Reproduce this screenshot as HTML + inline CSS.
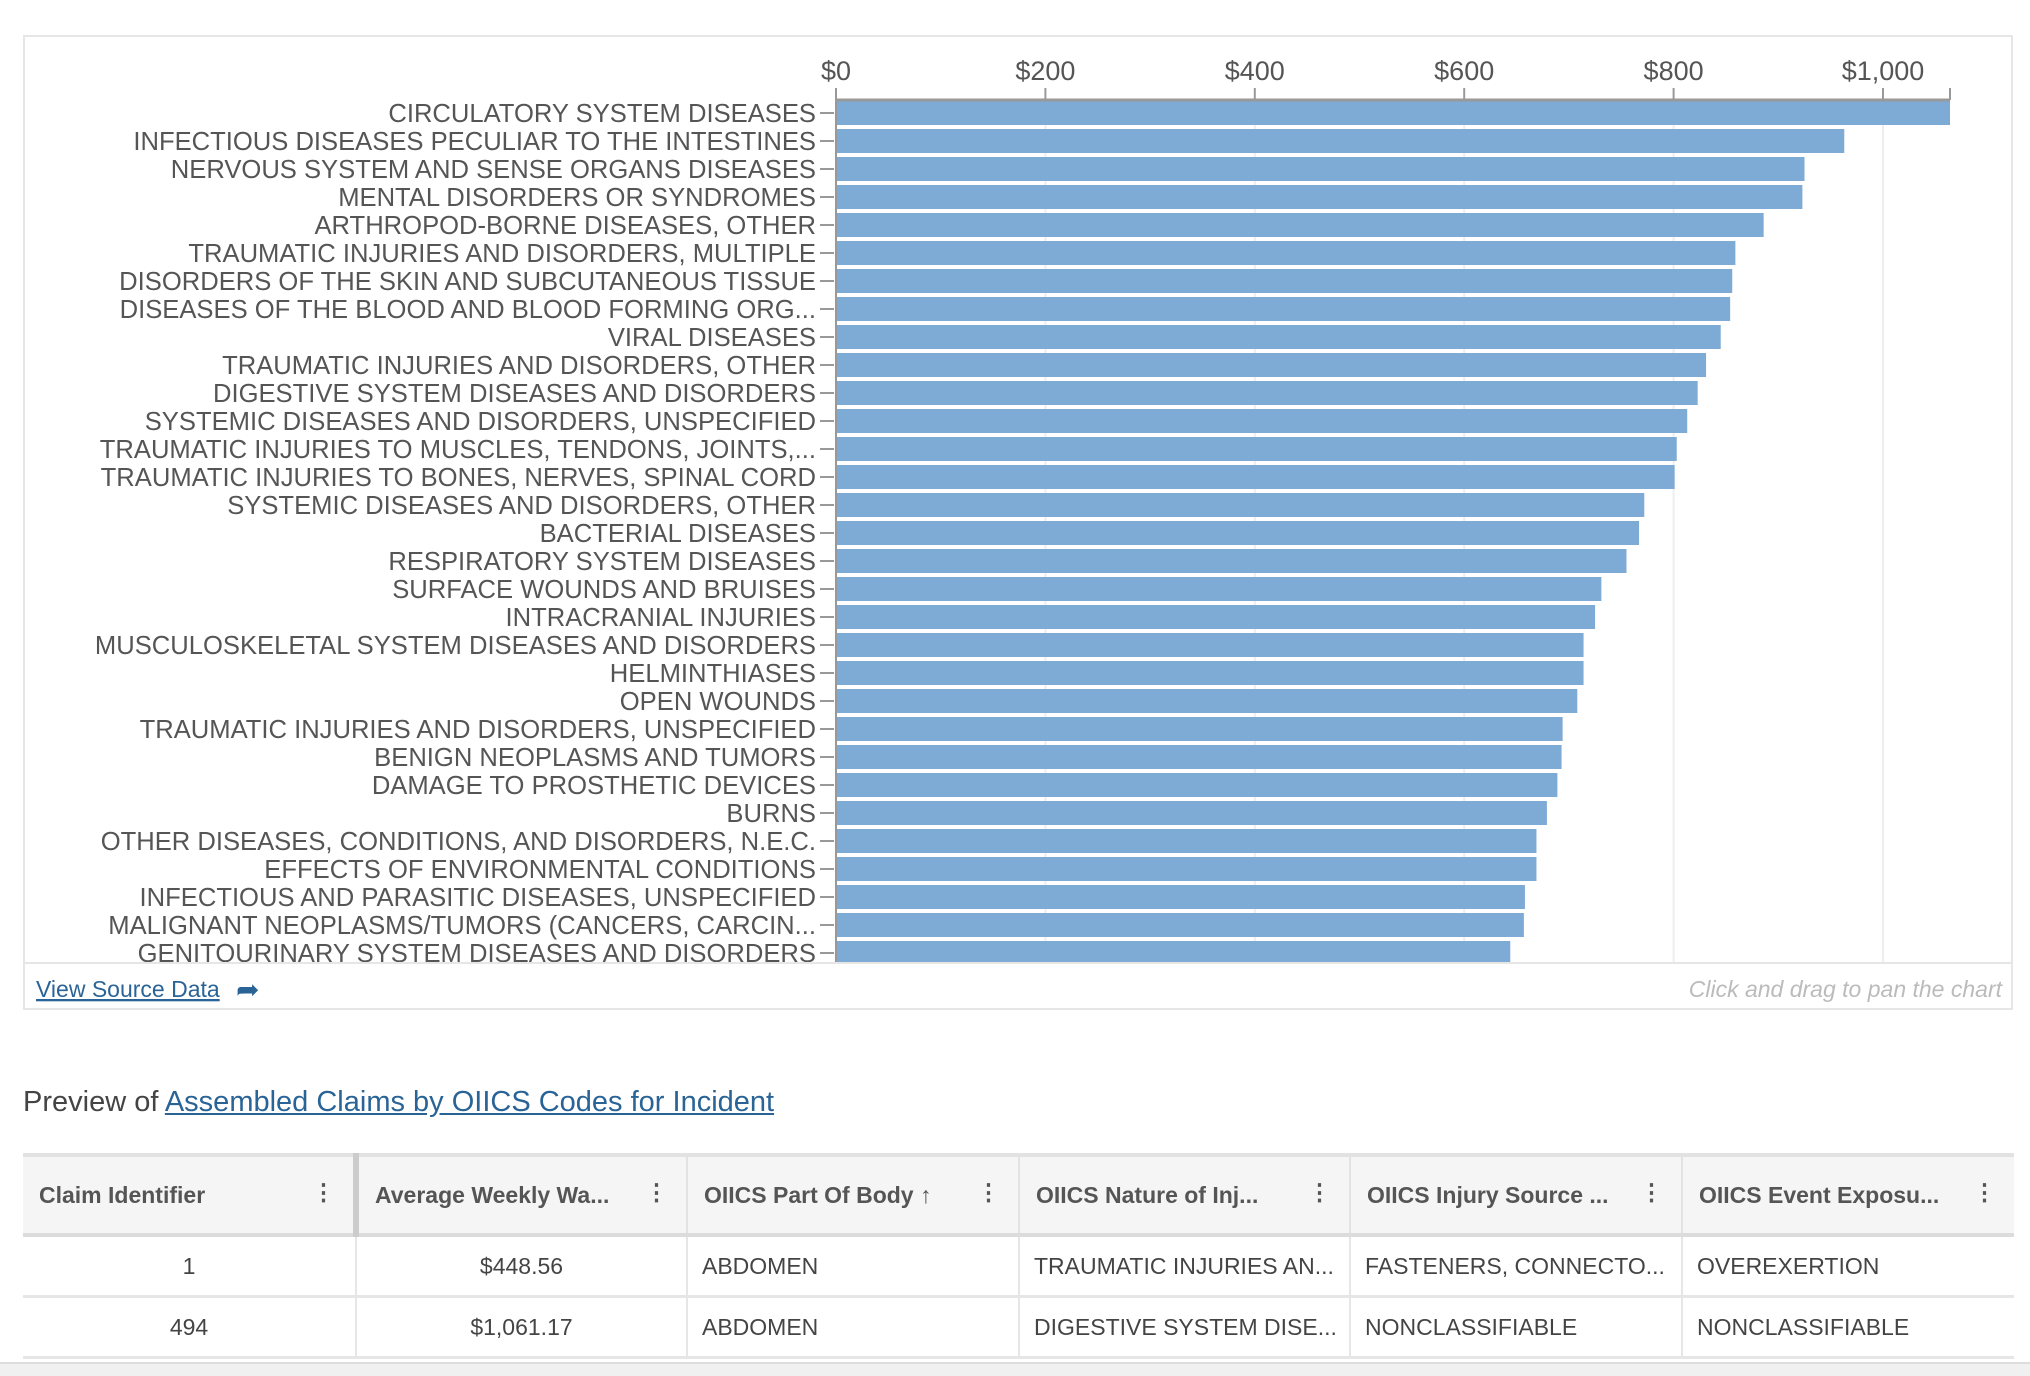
<!DOCTYPE html>
<html><head><meta charset="utf-8">
<style>
body{margin:0;width:2030px;height:1374px;background:#fff;font-family:"Liberation Sans",sans-serif;position:relative;overflow:hidden}
#chartbox{position:absolute;left:23px;top:35px;width:1990px;height:975px;border:2px solid #e6e6e6;box-sizing:border-box}
svg text{font-family:"Liberation Sans",sans-serif}
.ttl{position:absolute;left:23px;top:1086px;font-size:29px;color:#444}
.ttl a{color:#2a6496;text-decoration:underline}
table{position:absolute;left:23px;top:1153px;width:1991px;border-collapse:collapse;font-size:23px;color:#444;table-layout:fixed}
th{background:#f5f5f5;height:76px;text-align:left;padding:0 16px;font-weight:bold;color:#555;border-right:2px solid #e2e2e2;border-top:4px solid #e2e2e2;border-bottom:4px solid #dcdcdc;position:relative;white-space:nowrap;overflow:hidden}
th .m{position:absolute;right:18px;top:22px;font-weight:bold}
td{height:58px;padding:0 14px;border-right:2px solid #e6e6e6;border-bottom:3px solid #e6e6e6;white-space:nowrap;overflow:hidden}
.bot{position:absolute;left:0;top:1362px;width:2030px;height:12px;background:#f0f0f0;border-top:2px solid #ddd}
</style></head><body>
<div id="chartbox"></div>
<svg width="2030" height="1020" style="position:absolute;left:0;top:0">
<defs><clipPath id="pc"><rect x="0" y="0" width="2030" height="962"/></clipPath></defs>
<g id="grid"></g><g id="bars" clip-path="url(#pc)"></g><g id="axis"></g><g id="labels" clip-path="url(#pc)"></g>
<line x1="24" y1="963" x2="2012" y2="963" stroke="#e6e6e6" stroke-width="2"/>
<text x="36" y="997" font-size="23" fill="#2a6496" text-decoration="underline">View Source Data</text>
<text x="236" y="999" font-size="28" fill="#2a6496">➦</text>
<text x="2002" y="997" font-size="23" fill="#bbb" font-style="italic" text-anchor="end">Click and drag to pan the chart</text>
</svg>
<div class="ttl">Preview of <a>Assembled Claims by OIICS Codes for Incident</a></div>
<table>
<colgroup><col style="width:333px"><col style="width:331px"><col style="width:332px"><col style="width:331px"><col style="width:332px"><col></colgroup>
<tr>
<th style="border-right:6px solid #ccc">Claim Identifier<span class="m">⋮</span></th>
<th>Average Weekly Wa...<span class="m">⋮</span></th>
<th>OIICS Part Of Body ↑<span class="m">⋮</span></th>
<th>OIICS Nature of Inj...<span class="m">⋮</span></th>
<th>OIICS Injury Source ...<span class="m">⋮</span></th>
<th style="border-right:none">OIICS Event Exposu...<span class="m">⋮</span></th>
</tr>
<tr><td style="text-align:center">1</td><td style="text-align:center">$448.56</td><td>ABDOMEN</td><td>TRAUMATIC INJURIES AN...</td><td>FASTENERS, CONNECTO...</td><td style="border-right:none">OVEREXERTION</td></tr>
<tr><td style="text-align:center">494</td><td style="text-align:center">$1,061.17</td><td>ABDOMEN</td><td>DIGESTIVE SYSTEM DISE...</td><td>NONCLASSIFIABLE</td><td style="border-right:none">NONCLASSIFIABLE</td></tr>
</table>
<div class="bot"></div>
<script>
const categories=["CIRCULATORY SYSTEM DISEASES","INFECTIOUS DISEASES PECULIAR TO THE INTESTINES","NERVOUS SYSTEM AND SENSE ORGANS DISEASES","MENTAL DISORDERS OR SYNDROMES","ARTHROPOD-BORNE DISEASES, OTHER","TRAUMATIC INJURIES AND DISORDERS, MULTIPLE","DISORDERS OF THE SKIN AND SUBCUTANEOUS TISSUE","DISEASES OF THE BLOOD AND BLOOD FORMING ORG...","VIRAL DISEASES","TRAUMATIC INJURIES AND DISORDERS, OTHER","DIGESTIVE SYSTEM DISEASES AND DISORDERS","SYSTEMIC DISEASES AND DISORDERS, UNSPECIFIED","TRAUMATIC INJURIES TO MUSCLES, TENDONS, JOINTS,...","TRAUMATIC INJURIES TO BONES, NERVES, SPINAL CORD","SYSTEMIC DISEASES AND DISORDERS, OTHER","BACTERIAL DISEASES","RESPIRATORY SYSTEM DISEASES","SURFACE WOUNDS AND BRUISES","INTRACRANIAL INJURIES","MUSCULOSKELETAL SYSTEM DISEASES AND DISORDERS","HELMINTHIASES","OPEN WOUNDS","TRAUMATIC INJURIES AND DISORDERS, UNSPECIFIED","BENIGN NEOPLASMS AND TUMORS","DAMAGE TO PROSTHETIC DEVICES","BURNS","OTHER DISEASES, CONDITIONS, AND DISORDERS, N.E.C.","EFFECTS OF ENVIRONMENTAL CONDITIONS","INFECTIOUS AND PARASITIC DISEASES, UNSPECIFIED","MALIGNANT NEOPLASMS/TUMORS (CANCERS, CARCIN...","GENITOURINARY SYSTEM DISEASES AND DISORDERS"];
const values=[1064,963,925,923,886,859,856,854,845,831,823,813,803,801,772,767,755,731,725,714,714,708,694,693,689,679,669,669,658,657,644];
const tickValues=[0,200,400,600,800,1000];
const tickLabels=["$0","$200","$400","$600","$800","$1,000"];
const NS="http://www.w3.org/2000/svg";
const x0=836,pxPer=1.047,yTop=101,step=28,barH=24;
const xMax=Math.max(...values);
function xs(v){return x0+v*pxPer;}
function ys(i){return yTop+i*step;}
function mk(t,a,p){const e=document.createElementNS(NS,t);for(const k in a)e.setAttribute(k,a[k]);p.appendChild(e);return e;}
const G=document.getElementById('grid'),B=document.getElementById('bars'),A=document.getElementById('axis'),L=document.getElementById('labels');
tickValues.forEach((v,i)=>{
 const g=mk('line',{x1:xs(v),x2:xs(v),y1:100,y2:963,stroke:'#eeeeee','stroke-width':2},G);
 
 
 const tk=mk('line',{x1:xs(v),x2:xs(v),y1:88,y2:100,stroke:'#999','stroke-width':2},A);
 
 
 const t=mk('text',{x:xs(v),y:80,'font-size':27,fill:'#555','text-anchor':'middle'},A);
 t.textContent=tickLabels[i];
 
 
});
const ax=mk('line',{x1:x0,x2:xs(xMax),y1:100,y2:100,stroke:'#999','stroke-width':3},A);


const ae=mk('line',{x1:xs(xMax),x2:xs(xMax),y1:88,y2:100,stroke:'#999','stroke-width':2},A);


const yl=mk('line',{x1:x0,x2:x0,y1:100,y2:963,stroke:'#999','stroke-width':2},A);


values.forEach((v,i)=>{
 const r=mk('rect',{x:x0,y:ys(i),width:xs(v)-x0,height:barH,fill:'#7eaad6'},B);
 
 
 const tk=mk('line',{x1:820,x2:834,y1:ys(i)+barH/2,y2:ys(i)+barH/2,stroke:'#999','stroke-width':2},A);
 
 
 const t=mk('text',{x:816,y:ys(i)+barH/2+9,'font-size':25.6,fill:'#555','text-anchor':'end'},L);
 t.textContent=categories[i];
 
 
});
</script>
</body></html>
